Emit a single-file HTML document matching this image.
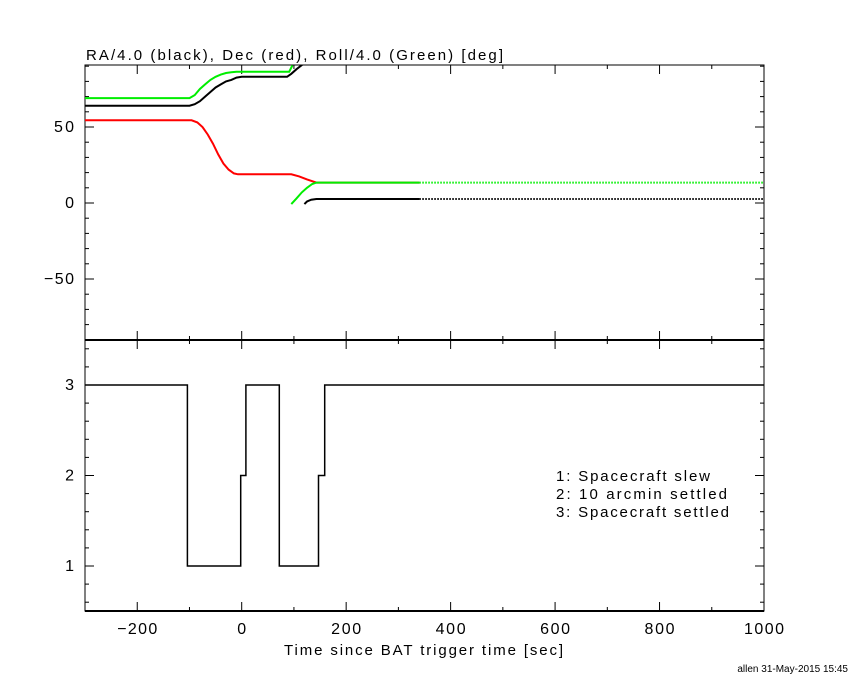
<!DOCTYPE html>
<html><head><meta charset="utf-8"><style>
body{margin:0;background:#fff}
svg text{font-family:"Liberation Sans",sans-serif;font-size:15px;fill:#000}
</style></head><body>
<svg id="c" width="850" height="680" xmlns="http://www.w3.org/2000/svg">
<text x="86" y="60" textLength="417" lengthAdjust="spacing">RA/4.0 (black), Dec (red), Roll/4.0 (Green) [deg]</text>
<text x="284" y="655" textLength="279" lengthAdjust="spacing">Time since BAT trigger time [sec]</text>
<text x="848" y="672" text-anchor="end" style="font-size:10px">allen 31-May-2015 15:45</text>
<g>
<text x="556" y="481" textLength="154" lengthAdjust="spacing">1: Spacecraft slew</text>
<text x="556" y="499" textLength="171" lengthAdjust="spacing">2: 10 arcmin settled</text>
<text x="556" y="517" textLength="173" lengthAdjust="spacing">3: Spacecraft settled</text>
</g>
</svg>
<script>
const xTicks=[-200,0,200,400,600,800,1000];
const topYTicks=[-50,0,50];
const botYTicks=[1,2,3];
const raT1=[-300,-100,-90,-80,-70,-60,-50,-40,-30,-20,-10,0,87,95,105,116];
const raV1=[64,64,65,67,70,73,76,78,80,81,82.5,83,83,85,88,91];
const raT2=[120,125,133,143,340];
const raV2=[-0.7,1,2.2,2.6,2.6];
const rollT1=[-300,-100,-90,-80,-70,-60,-50,-40,-30,-20,-10,91,97];
const rollV1=[69,69,71,75,78,81,83,84.5,85.5,86,86.4,86.4,90.5];
const rollT2=[95,105,115,125,135,143,340];
const rollV2=[-0.7,3,7,10,12.5,13.4,13.4];
const decT=[-300,-96,-85,-75,-65,-55,-45,-35,-25,-15,-7,95,110,125,143,340];
const decV=[54.4,54.4,53,50,45,39,32,26,22,19.5,18.9,18.9,17.5,15.5,13.4,13.4];
const dotEnd=1000, dotStart=340;
const modeT=[-300,-104,-2,8,72,147,159,1000];
const modeV=[3,1,2,3,1,2,3,3];

const L=85,R=764,T=65,M=340,B=611;
const X=t=>241.7+t*0.5223;
const YT=v=>203-v*1.52;
const YB=v=>385+(3-v)*90.5;
const svg=document.getElementById('c');
const NS='http://www.w3.org/2000/svg';
function mk(tag,attrs,name){const e=document.createElementNS(NS,tag);for(const k in attrs)e.setAttribute(k,attrs[k]);


svg.appendChild(e);return e;}
function txt(x,y,s,anchor,name){const e=mk('text',{x:x,y:y,'text-anchor':anchor,'style':'font-size:16px'},name);e.textContent=s;
const w=s.length*10;e.setAttribute('textLength',w);e.setAttribute('lengthAdjust','spacing');}
const defs=document.createElementNS(NS,'defs');defs.innerHTML='<clipPath id="tp"><rect x="85" y="65" width="679" height="275"/></clipPath>';svg.appendChild(defs);
mk('rect',{x:L,y:T,width:R-L,height:M-T,fill:'none',stroke:'#000','stroke-width':1},'top-panel-frame');
mk('rect',{x:L,y:M,width:R-L,height:B-M,fill:'none',stroke:'#000','stroke-width':1},'bottom-panel-frame');
mk('line',{x1:L,y1:M,x2:R,y2:M,stroke:'#000','stroke-width':2},'panel-divider');
mk('line',{x1:L,y1:B,x2:R,y2:B,stroke:'#000','stroke-width':2},'x-axis-line');
for(let t=-300;t<=1000;t+=100){const x=X(t);if(x<L+1||x>R-1)continue;const len=(t%200===0)?9:4;
[[T,1],[M,-1],[M,1],[B,-1]].forEach(([y,d])=>mk('line',{x1:x,y1:y,x2:x,y2:y+d*len,stroke:'#000'},'x-tick'));}
xTicks.forEach(t=>txt(X(t),634,t<0?'\u2212'+(-t):String(t),'middle','x-tick-label'));
for(let v=-80;v<=90;v+=10){const y=YT(v);if(y<T+1||y>M-1)continue;const len=(v%50===0)?9:4;
mk('line',{x1:L,y1:y,x2:L+len,y2:y,stroke:'#000'},'top-y-tick');mk('line',{x1:R,y1:y,x2:R-len,y2:y,stroke:'#000'},'top-y-tick');}
topYTicks.forEach(v=>txt(74,YT(v)+5,v<0?'\u2212'+(-v):String(v),'end','top-y-tick-label'));
for(let i=3;i<=17;i++){const v=i/5;const y=YB(v);if(y<M+1||y>B-1)continue;const len=(i%5===0)?9:4;
mk('line',{x1:L,y1:y,x2:L+len,y2:y,stroke:'#000'},'bottom-y-tick');mk('line',{x1:R,y1:y,x2:R-len,y2:y,stroke:'#000'},'bottom-y-tick');}
botYTicks.forEach(v=>txt(74,YB(v)+5,String(v),'end','bottom-y-tick-label'));
function line(ts,vs,col,name,dash){const p=ts.map((t,i)=>X(t).toFixed(1)+','+YT(vs[i]).toFixed(1)).join(' ');
const e=mk('polyline',{points:p,fill:'none',stroke:col,'stroke-width':2,'clip-path':'url(#tp)'},name);if(dash)e.setAttribute('stroke-dasharray',dash);}
line(decT,decV,'#f00','dec-line');
line(raT1,raV1,'#000','ra-line-1');
line(raT2,raV2,'#000','ra-line-2');
line([dotStart,dotEnd],[raV2[raV2.length-1],raV2[raV2.length-1]],'#000','ra-dotted','1.5,1.5');
line(rollT1,rollV1,'#0e0','roll-line-1');
line(rollT2,rollV2,'#0e0','roll-line-2');
line([dotStart,dotEnd],[rollV2[rollV2.length-1],rollV2[rollV2.length-1]],'#0e0','roll-dotted','1.5,1.5');
let pts=[];for(let i=0;i<modeT.length-1;i++){pts.push([X(modeT[i]),YB(modeV[i])]);pts.push([X(modeT[i+1]),YB(modeV[i])]);}
pts[0][0]=L;pts[pts.length-1][0]=R;
mk('polyline',{points:pts.map(p=>p[0].toFixed(1)+','+p[1].toFixed(1)).join(' '),fill:'none',stroke:'#000','stroke-width':1.5},'settle-mode-step-line');
</script>
</body></html>
